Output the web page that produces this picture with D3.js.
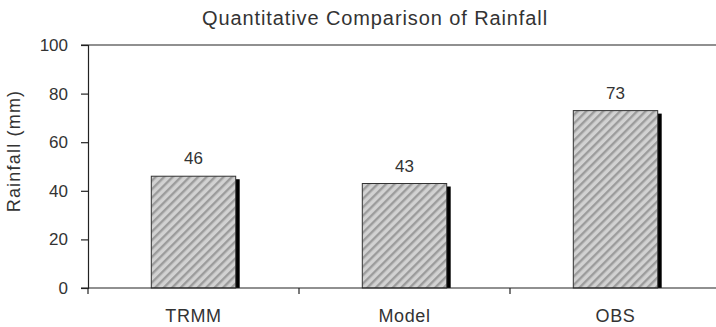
<!DOCTYPE html>
<html>
<head>
<meta charset="utf-8">
<script src="https://cdn.jsdelivr.net/npm/d3@7"></script>
<style>
  html, body { margin: 0; padding: 0; background: #fff; }
  svg { display: block; font-family: "Liberation Sans", Arial, sans-serif; }
</style>
</head>
<body>
<svg id="chart" width="716" height="327"></svg>
<script>
// Rainfall totals by source
const categories = ["TRMM", "Model", "OBS"];
const rainfall = [46, 43, 73];
const yTicks = [0, 20, 40, 60, 80, 100];
const titleText = "Quantitative Comparison of Rainfall";
const yLabel = "Rainfall (mm)";

const svg = d3.select("#chart");
const W = 716, H = 327;
const plot = { left: 88, right: 721, top: 45, bottom: 288 };
const textColor = "#333";
const axisColor = "#222";

// Diagonal hatch fill
const defs = svg.append("defs");
const pat = defs.append("pattern")
  .attr("id", "hatch")
  .attr("patternUnits", "userSpaceOnUse")
  .attr("width", 6).attr("height", 6)
  .attr("patternTransform", "rotate(45)");
pat.append("rect").attr("width", 6).attr("height", 6).attr("fill", "#d2d2d2");
pat.append("rect").attr("x", 0).attr("y", 0).attr("width", 2.4).attr("height", 6).attr("fill", "#9c9c9c");

const x = d3.scaleBand()
  .domain(categories)
  .range([plot.left, plot.right])
  .paddingInner(0.6)
  .paddingOuter(0.3);

const y = d3.scaleLinear()
  .domain([0, 100])
  .range([plot.bottom, plot.top]);

// Top frame line
svg.append("line")
  .attr("x1", plot.left - 7).attr("x2", W)
  .attr("y1", y(100)).attr("y2", y(100))
  .attr("stroke", axisColor).attr("stroke-width", 1.2);

// Y axis
const yAxis = svg.append("g")
  .attr("transform", `translate(${plot.left},0)`)
  .call(d3.axisLeft(y).tickValues(yTicks).tickSize(7).tickPadding(13).tickFormat(d3.format("d")));
yAxis.select(".domain").attr("stroke", axisColor).attr("stroke-width", 1.2);
yAxis.selectAll(".tick line").attr("stroke", axisColor).attr("stroke-width", 1.2);
yAxis.selectAll(".tick text")
  .attr("fill", textColor)
  .style("font-size", "17px")
  .style("font-family", "Liberation Sans, Arial, sans-serif");

// Shadows behind bars
svg.append("g").selectAll("rect")
  .data(categories)
  .join("rect")
  .attr("x", (d) => x(d) + x.bandwidth())
  .attr("y", (d, i) => y(rainfall[i]) + 3)
  .attr("width", 4)
  .attr("height", (d, i) => plot.bottom - y(rainfall[i]) - 3)
  .attr("fill", "#000");

// Bars
svg.append("g").selectAll("rect")
  .data(categories)
  .join("rect")
  .attr("x", (d) => x(d))
  .attr("y", (d, i) => y(rainfall[i]))
  .attr("width", x.bandwidth())
  .attr("height", (d, i) => plot.bottom - y(rainfall[i]))
  .attr("fill", "url(#hatch)")
  .attr("stroke", "#333")
  .attr("stroke-width", 1);

// Value labels
svg.append("g").selectAll("text")
  .data(categories)
  .join("text")
  .attr("x", (d) => x(d) + x.bandwidth() / 2)
  .attr("y", (d, i) => y(rainfall[i]) - 12)
  .attr("text-anchor", "middle")
  .attr("fill", textColor)
  .style("font-size", "17px")
  .text((d, i) => rainfall[i]);

// X axis baseline with category-boundary ticks
svg.append("line")
  .attr("x1", plot.left - 7).attr("x2", W)
  .attr("y1", plot.bottom).attr("y2", plot.bottom)
  .attr("stroke", axisColor).attr("stroke-width", 1.2);
const bounds = categories.map((d) => x(d) - x.step() * x.paddingInner() / 2);
bounds[0] = plot.left;
svg.append("g").selectAll("line")
  .data(bounds)
  .join("line")
  .attr("x1", (d) => d).attr("x2", (d) => d)
  .attr("y1", plot.bottom).attr("y2", plot.bottom + 6)
  .attr("stroke", axisColor).attr("stroke-width", 1.2);

// Category labels
svg.append("g").selectAll("text")
  .data(categories)
  .join("text")
  .attr("x", (d) => x(d) + x.bandwidth() / 2)
  .attr("y", 322)
  .attr("text-anchor", "middle")
  .attr("fill", textColor)
  .style("font-size", "18px")
  .style("letter-spacing", "0.6px")
  .text((d) => d);

// Title
svg.append("text")
  .attr("x", 375).attr("y", 25)
  .attr("text-anchor", "middle")
  .attr("fill", textColor)
  .style("font-size", "20px")
  .style("letter-spacing", "0.9px")
  .text(titleText);

// Y axis label
svg.append("text")
  .attr("transform", `translate(20,151) rotate(-90)`)
  .attr("text-anchor", "middle")
  .attr("fill", textColor)
  .style("font-size", "18px")
  .style("letter-spacing", "1.2px")
  .text(yLabel);
</script>
</body>
</html>
